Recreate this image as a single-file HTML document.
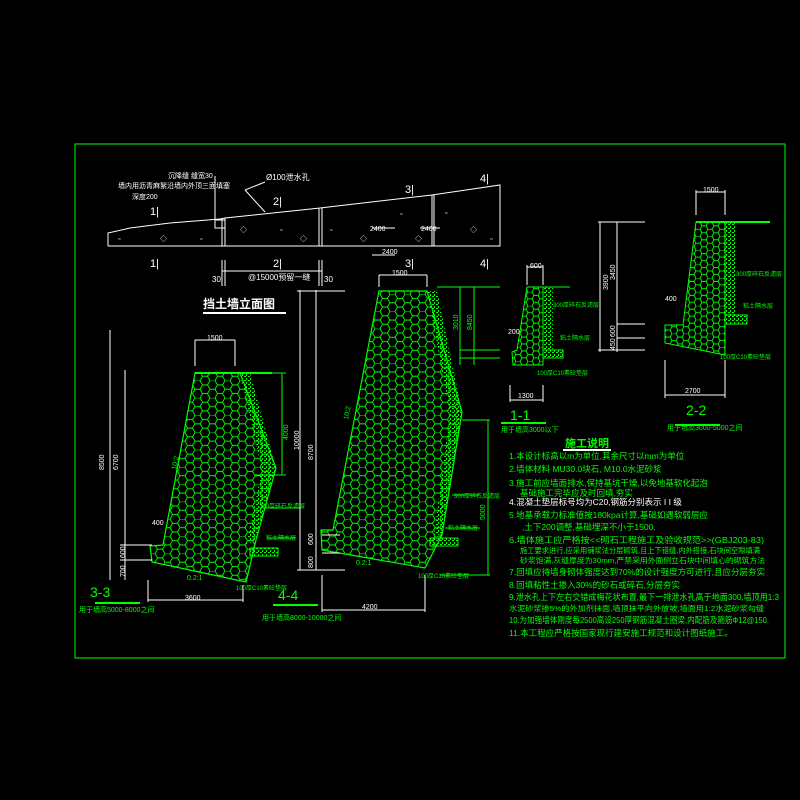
<!DOCTYPE html>
<html><head><meta charset="utf-8"><style>
html,body{margin:0;padding:0;background:#000;}
svg{display:block;}
text{font-family:"Liberation Sans","Noto Sans CJK SC",sans-serif;}
</style></head><body>
<svg width="800" height="800" viewBox="0 0 800 800" xmlns="http://www.w3.org/2000/svg">
<defs>
<pattern id="hex" width="15" height="17.3" patternUnits="userSpaceOnUse">
<path d="M0,0 L5,0 L7.5,4.33 L5,8.66 L0,8.66 L-2.5,4.33 Z M7.5,4.33 L12.5,4.33 L15,0 M12.5,4.33 L15,8.66 M5,8.66 L7.5,12.99 L5,17.32 M7.5,12.99 L12.5,12.99 L15,8.66 M12.5,12.99 L15,17.32" fill="none" stroke="#00ff00" stroke-width="0.9"/>
</pattern>
<pattern id="hexs" width="12" height="13.9" patternUnits="userSpaceOnUse">
<path d="M0,0 L4,0 L6,3.46 L4,6.93 L0,6.93 L-2,3.46 Z M6,3.46 L10,3.46 L12,0 M10,3.46 L12,6.93 M4,6.93 L6,10.39 L4,13.86 M6,10.39 L10,10.39 L12,6.93 M10,10.39 L12,13.86" fill="none" stroke="#00ff00" stroke-width="0.9"/>
</pattern>
<pattern id="dots" width="4" height="4" patternUnits="userSpaceOnUse">
<rect x="0" y="0" width="2" height="1" fill="#00ff00"/><rect x="2" y="2" width="1" height="2" fill="#00ff00"/>
</pattern>
</defs>
<rect x="0" y="0" width="800" height="800" fill="#000"/>
<rect x="75" y="144" width="710" height="514" fill="none" stroke="#00ff00" stroke-width="1"/>

<!-- elevation -->
<g stroke="#fff" fill="none" stroke-width="1">
<polyline points="108,246 108,233 130,228 170,223 220,219 225,218 320,208 432,195 500,185 500,246 108,246"/>
<line x1="222" y1="218" x2="222" y2="246"/><line x1="225" y1="218" x2="225" y2="246"/>
<line x1="319" y1="208" x2="319" y2="246"/><line x1="322" y1="208" x2="322" y2="246"/>
<line x1="432" y1="195" x2="432" y2="246"/><line x1="434" y1="195" x2="434" y2="246"/>
<rect x="215" y="220" width="10" height="8"/>
<polyline points="215,176 215,220"/>
<line x1="245" y1="190" x2="265" y2="212"/><line x1="265" y1="182" x2="245" y2="190"/>
<line x1="222" y1="271" x2="322" y2="271"/>
<line x1="222" y1="260" x2="222" y2="286"/><line x1="225" y1="260" x2="225" y2="286"/>
<line x1="319" y1="260" x2="319" y2="286"/><line x1="322" y1="260" x2="322" y2="286"/>
<line x1="372" y1="255" x2="395" y2="255"/><line x1="372" y1="228" x2="395" y2="228"/><line x1="420" y1="228" x2="440" y2="228"/>
</g>
<g fill="#fff" font-size="11">
<text x="150" y="215">1|</text><text x="273" y="205">2|</text><text x="405" y="193">3|</text><text x="480" y="182">4|</text>
<text x="150" y="267">1|</text><text x="273" y="267">2|</text><text x="405" y="267">3|</text><text x="480" y="267">4|</text>
<text x="168" y="178" font-size="7">沉降缝 缝宽30</text>
<text x="118" y="188" font-size="7">墙内用沥青麻絮沿墙内外顶三面填塞</text>
<text x="132" y="199" font-size="7">深度200</text>
<text x="266" y="180" font-size="8">Ø100泄水孔</text>
<text x="248" y="280" font-size="8">@15000预留一缝</text>
<text x="212" y="282" font-size="8">30</text><text x="324" y="282" font-size="8">30</text>
<text x="382" y="254" font-size="7">2400</text><text x="370" y="231" font-size="7">2400</text><text x="421" y="231" font-size="7">2400</text>
</g>
<g fill="#fff" font-size="7">
<text x="118" y="241">▫</text><text x="160" y="241">◇</text><text x="200" y="241">▫</text><text x="240" y="232">◇</text><text x="280" y="232">▫</text><text x="300" y="241">◇</text>
<text x="330" y="232">▫</text><text x="360" y="241">◇</text><text x="400" y="216">▫</text><text x="415" y="241">◇</text><text x="445" y="215">▫</text><text x="470" y="232">◇</text><text x="490" y="241">▫</text>
</g>

<text x="203" y="308" fill="#fff" font-size="12" font-weight="bold">挡土墙立面图</text>
<line x1="203" y1="313" x2="286" y2="313" stroke="#fff" stroke-width="2"/>

<!-- 3-3 -->
<polygon points="195,373 240,373 276,468 256,540 246,582 152,562 150,546 163,545" fill="url(#hex)" stroke="#00ff00" stroke-width="1.2"/>
<polygon points="240,373 250,373 276,468 262,470" fill="url(#dots)"/>
<polygon points="262,470 276,468 256,540 246,545" fill="url(#dots)"/>
<line x1="195" y1="373" x2="272" y2="373" stroke="#00ff00" stroke-width="2"/>
<rect x="250" y="548" width="28" height="8" fill="url(#dots)" stroke="#00ff00"/>
<g stroke="#fff" fill="none">
<line x1="195" y1="340" x2="235" y2="340"/><line x1="195" y1="340" x2="195" y2="366"/><line x1="235" y1="340" x2="235" y2="366"/>
<line x1="110" y1="330" x2="110" y2="580"/><line x1="125" y1="370" x2="125" y2="580"/>
<line x1="148" y1="580" x2="148" y2="602"/><line x1="243" y1="585" x2="243" y2="602"/><line x1="148" y1="600" x2="243" y2="600"/>
<line x1="120" y1="560" x2="152" y2="560"/><line x1="120" y1="545" x2="152" y2="545"/>
</g>
<g stroke="#00ff00"><line x1="250" y1="373" x2="286" y2="373"/><line x1="282" y1="373" x2="282" y2="475"/><line x1="255" y1="475" x2="286" y2="475"/>
<line x1="263" y1="508" x2="300" y2="508"/><line x1="268" y1="538" x2="296" y2="538"/></g>
<g fill="#fff" font-size="7">
<text x="207" y="340">1500</text><text x="185" y="600">3600</text><text x="152" y="525">400</text>
<text transform="translate(118,470) rotate(-90)">6700</text><text transform="translate(104,470) rotate(-90)">8500</text>
<text transform="translate(125,558) rotate(-90)">600</text><text transform="translate(125,577) rotate(-90)">700</text>
</g>
<g fill="#00ff00" font-size="7">
<text transform="translate(288,440) rotate(-90)">4000</text>
<text x="259" y="508" font-size="6">300厚碎石反滤层</text><text x="266" y="540" font-size="6">粘土隔水层</text>
<text x="236" y="590" font-size="6">100厚C10素砼垫层</text>
<text x="187" y="580">0.2:1</text><text transform="translate(176,470) rotate(-78)">10:2</text>
<text x="90" y="597" font-size="14">3-3</text>
<text x="79" y="612" font-size="7">用于墙高5000-8000之间</text>
</g>
<line x1="95" y1="603" x2="140" y2="603" stroke="#00ff00" stroke-width="2"/>

<!-- 4-4 -->
<polygon points="379,291 427,291 462,412 442,535 425,568 322,550 321,530 333,530" fill="url(#hex)" stroke="#00ff00" stroke-width="1.2"/>
<polygon points="427,291 437,291 462,412 450,413" fill="url(#dots)"/>
<polygon points="450,413 462,412 442,535 434,535" fill="url(#dots)"/>
<rect x="430" y="538" width="28" height="8" fill="url(#dots)" stroke="#00ff00"/>
<g stroke="#fff" fill="none">
<line x1="379" y1="275" x2="427" y2="275"/><line x1="379" y1="275" x2="379" y2="287"/><line x1="427" y1="275" x2="427" y2="287"/>
<line x1="300" y1="290" x2="300" y2="570"/><line x1="316" y1="290" x2="316" y2="570"/><line x1="297" y1="291" x2="345" y2="291"/><line x1="297" y1="570" x2="345" y2="570"/>
<line x1="322" y1="535" x2="340" y2="535"/><line x1="322" y1="553" x2="340" y2="553"/>
<line x1="322" y1="575" x2="322" y2="612"/><line x1="425" y1="575" x2="425" y2="612"/><line x1="322" y1="610" x2="425" y2="610"/>
</g>
<g stroke="#00ff00" fill="none">
<line x1="437" y1="287" x2="500" y2="287"/><line x1="460" y1="287" x2="460" y2="365"/><line x1="474" y1="287" x2="474" y2="365"/>
<line x1="460" y1="350" x2="500" y2="350"/><line x1="460" y1="358" x2="500" y2="358"/>
<line x1="462" y1="420" x2="490" y2="420"/><line x1="488" y1="420" x2="488" y2="575"/><line x1="440" y1="575" x2="490" y2="575"/>
<line x1="452" y1="495" x2="480" y2="495"/><line x1="445" y1="528" x2="480" y2="528"/>
</g>
<g fill="#fff" font-size="7">
<text x="392" y="275">1500</text><text x="362" y="609">4200</text>
<text transform="translate(299,450) rotate(-90)">10000</text><text transform="translate(313,460) rotate(-90)">8700</text>
<text transform="translate(313,545) rotate(-90)">600</text><text transform="translate(313,568) rotate(-90)">800</text>
</g>
<g fill="#00ff00" font-size="7">
<text transform="translate(458,330) rotate(-90)">3010</text><text transform="translate(472,330) rotate(-90)">8450</text>
<text transform="translate(485,520) rotate(-90)">5000</text>
<text x="454" y="498" font-size="6">300厚碎石反滤层</text><text x="448" y="530" font-size="6">粘土隔水层</text>
<text x="418" y="578" font-size="6">100厚C10素砼垫层</text>
<text x="356" y="565">0.2:1</text><text transform="translate(348,420) rotate(-78)">10:2</text>
<text x="278" y="600" font-size="14">4-4</text>
<text x="262" y="620" font-size="7">用于墙高8000-10000之间</text>
</g>
<line x1="273" y1="605" x2="318" y2="605" stroke="#00ff00" stroke-width="2"/>

<!-- 1-1 -->
<polygon points="527,287 543,287 543,365 513,365 512,352 517,350" fill="url(#hexs)" stroke="#00ff00"/>
<rect x="543" y="287" width="10" height="63" fill="url(#dots)"/>
<rect x="543" y="350" width="20" height="8" fill="url(#dots)" stroke="#00ff00"/>
<line x1="543" y1="287" x2="570" y2="287" stroke="#00ff00"/>
<g stroke="#fff" fill="none">
<line x1="527" y1="267" x2="543" y2="267"/><line x1="527" y1="265" x2="527" y2="285"/><line x1="543" y1="265" x2="543" y2="285"/>
<line x1="510" y1="400" x2="543" y2="400"/><line x1="510" y1="385" x2="510" y2="402"/><line x1="543" y1="385" x2="543" y2="402"/>
<line x1="600" y1="222" x2="600" y2="352"/><line x1="617" y1="222" x2="617" y2="352"/><line x1="598" y1="222" x2="645" y2="222"/><line x1="617" y1="324" x2="645" y2="324"/><line x1="617" y1="338" x2="645" y2="338"/><line x1="598" y1="350" x2="645" y2="350"/>
</g>
<g fill="#fff" font-size="7">
<text x="530" y="268">600</text><text x="518" y="398">1300</text><text x="508" y="334">200</text>
<text transform="translate(608,290) rotate(-90)">3900</text><text transform="translate(615,280) rotate(-90)">3450</text>
<text transform="translate(615,337) rotate(-90)">600</text><text transform="translate(615,350) rotate(-90)">450</text>
</g>
<g fill="#00ff00" font-size="7">
<text x="553" y="307" font-size="6">300厚碎石反滤层</text><text x="560" y="340" font-size="6">粘土隔水层</text>
<text x="537" y="375" font-size="6">100厚C10素砼垫层</text>
<text x="510" y="420" font-size="14">1-1</text><text x="501" y="432" font-size="7">用于墙高3000以下</text>
</g>
<line x1="501" y1="423" x2="546" y2="423" stroke="#00ff00" stroke-width="2"/>

<!-- 2-2 -->
<polygon points="696,222 725,222 725,355 665,343 665,325 683,325" fill="url(#hexs)" stroke="#00ff00"/>
<rect x="725" y="222" width="11" height="93" fill="url(#dots)"/>
<rect x="725" y="315" width="22" height="9" fill="url(#dots)" stroke="#00ff00"/>
<line x1="696" y1="222" x2="770" y2="222" stroke="#00ff00" stroke-width="2"/>
<g stroke="#fff" fill="none">
<line x1="696" y1="192" x2="725" y2="192"/><line x1="696" y1="190" x2="696" y2="215"/><line x1="725" y1="190" x2="725" y2="215"/>
<line x1="665" y1="395" x2="725" y2="395"/><line x1="665" y1="360" x2="665" y2="398"/><line x1="725" y1="360" x2="725" y2="398"/>
</g>
<g fill="#fff" font-size="7">
<text x="703" y="192">1500</text><text x="685" y="393">2700</text><text x="665" y="301">400</text>
</g>
<g fill="#00ff00" font-size="7">
<text x="736" y="276" font-size="6">300厚碎石反滤层</text><text x="743" y="308" font-size="6">粘土隔水层</text>
<text x="720" y="359" font-size="6">100厚C10素砼垫层</text>
<text x="686" y="415" font-size="14">2-2</text><text x="667" y="430" font-size="7">用于墙高3000-5000之间</text>
</g>
<line x1="675" y1="425" x2="720" y2="425" stroke="#00ff00" stroke-width="2"/>

<!-- notes -->
<text x="565" y="447" fill="#00ff00" font-size="11" font-weight="bold">施工说明</text>
<line x1="563" y1="450" x2="611" y2="450" stroke="#fff" stroke-width="2"/>
<g fill="#00ff00" font-size="8.5">
<text x="509" y="459">1.本设计标高以m为单位,其余尺寸以mm为单位</text>
<text x="509" y="472">2.墙体材料  MU30.0块石, M10.0水泥砂浆</text>
<text x="509" y="486">3.施工前应墙面排水,保持基坑干燥,以免地基软化起泡</text>
<text x="520" y="496">基础施工完毕应及时回填,夯实</text>
<text x="509" y="505" fill="#fff">4.混凝土垫层标号均为C20,钢筋分别表示 I I 级</text>
<text x="509" y="518">5.地基承载力标准值按180kpa计算,基础如遇软弱层应</text>
<text x="522" y="530">,土下200调整,基础埋深不小于1500.</text>
<text x="509" y="543" textLength="255" lengthAdjust="spacingAndGlyphs">6.墙体施工应严格按&lt;&lt;砌石工程施工及验收规范&gt;&gt;(GBJ203-83)</text>
<text x="520" y="553" font-size="7.5" textLength="240" lengthAdjust="spacingAndGlyphs">施工要求进行,应采用铺浆法分层砌筑,且上下错缝,内外搭接,石块间空隙填满</text>
<text x="520" y="563" font-size="7.5" textLength="245" lengthAdjust="spacingAndGlyphs">砂浆饱满,灰缝厚度为30mm,严禁采用外面侧立石块中间填心的砌筑方法</text>
<text x="509" y="575">7.回填应待墙身砌体强度达到70%的设计强度方可进行,且应分层夯实</text>
<text x="509" y="588">8.回填粘性土掺入30%的砂石或碎石,分层夯实</text>
<text x="509" y="600" textLength="270" lengthAdjust="spacingAndGlyphs">9.泄水孔上下左右交错成梅花状布置,最下一排泄水孔高于地面300,墙顶用1:3</text>
<text x="509" y="611" font-size="7.5" textLength="255" lengthAdjust="spacingAndGlyphs">水泥砂浆掺5%的外加剂抹面,墙顶抹平向外放坡,墙面用1:2水泥砂浆勾缝</text>
<text x="509" y="623" textLength="260" lengthAdjust="spacingAndGlyphs">10.为加强墙体刚度每2500高设250厚钢筋混凝土圈梁,内配筋及箍筋Ф12@150.</text>
<text x="509" y="636">11.本工程应严格按国家现行建安施工规范和设计图纸施工。</text>
</g>
</svg>
</body></html>
